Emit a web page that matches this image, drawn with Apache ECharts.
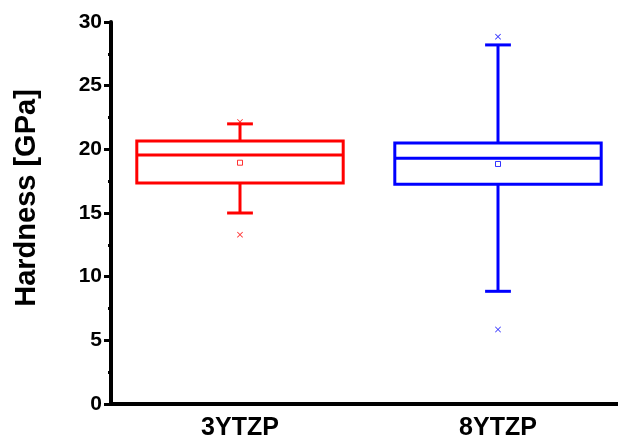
<!DOCTYPE html>
<html>
<head>
<meta charset="utf-8">
<script src="https://cdn.jsdelivr.net/npm/echarts@6/dist/echarts.min.js"></script>
<style>
  html, body { margin: 0; padding: 0; background: #fff; }
  #main { width: 618px; height: 443px; }
</style>
</head>
<body>
<div id="main"></div>
<script>
// data
var categories = ['3YTZP', '8YTZP'];
var colors = ['#ff0000', '#0000ff'];
var whiskerLow = [15.0, 8.85];
var q1 = [17.35, 17.25];
var median = [19.55, 19.3];
var q3 = [20.65, 20.5];
var whiskerHigh = [22.0, 28.2];
var means = [18.95, 18.85];
var outlierLow = [13.3, 5.85];
var outlierHigh = [22.15, 28.85];

var myChart = echarts.init(document.getElementById('main'));

var boxData = categories.map(function (c, i) {
  return [i, whiskerLow[i], q1[i], median[i], q3[i], whiskerHigh[i]];
});

var meanData = categories.map(function (c, i) {
  return { value: [i, means[i]], itemStyle: { color: '#fff', borderColor: colors[i] } };
});

var outData = [];
categories.forEach(function (c, i) {
  outData.push({ value: [i, outlierLow[i]], itemStyle: { color: colors[i] } });
  outData.push({ value: [i, outlierHigh[i]], itemStyle: { color: colors[i] } });
});

function renderBox(params, api) {
  var idx = api.value(0);
  var catW = api.size([1, 0])[0];
  var half = catW * 0.4;
  var cap = catW * 0.05;
  var pLow = api.coord([idx, api.value(1)]);
  var pQ1 = api.coord([idx, api.value(2)]);
  var pMed = api.coord([idx, api.value(3)]);
  var pQ3 = api.coord([idx, api.value(4)]);
  var pHigh = api.coord([idx, api.value(5)]);
  var x = pQ1[0];
  var style = { stroke: colors[idx], lineWidth: 3, fill: null };
  return {
    type: 'group',
    children: [
      { type: 'rect', shape: { x: x - half, y: pQ3[1], width: half * 2, height: pQ1[1] - pQ3[1] }, style: style },
      { type: 'line', shape: { x1: x - half, y1: pMed[1], x2: x + half, y2: pMed[1] }, style: style },
      { type: 'line', shape: { x1: x, y1: pQ3[1], x2: x, y2: pHigh[1] }, style: style },
      { type: 'line', shape: { x1: x, y1: pQ1[1], x2: x, y2: pLow[1] }, style: style },
      { type: 'line', shape: { x1: x - cap, y1: pHigh[1], x2: x + cap, y2: pHigh[1] }, style: style },
      { type: 'line', shape: { x1: x - cap, y1: pLow[1], x2: x + cap, y2: pLow[1] }, style: style }
    ]
  };
}

var option = {
  backgroundColor: '#fff',
  animation: false,
  grid: { left: 111, top: 22, width: 516, bottom: 39, outerBoundsMode: 'none', containLabel: false },
  xAxis: {
    type: 'category',
    data: categories,
    boundaryGap: true,
    axisLine: { lineStyle: { color: '#000', width: 4 } },
    axisTick: { alignWithLabel: true, length: 6, lineStyle: { width: 3, color: '#000' } },
    axisLabel: { color: '#000', fontFamily: 'Liberation Sans', fontWeight: 'bold', fontSize: 25, margin: 12 },
    splitLine: { show: false }
  },
  yAxis: {
    type: 'value',
    min: 0,
    max: 30,
    interval: 5,
    name: 'Hardness [GPa]',
    nameLocation: 'middle',
    nameGap: 70,
    nameTextStyle: {
      color: '#000', fontFamily: 'Liberation Sans', fontWeight: 'bold', fontSize: 29,
      padding: [0, 0, 0, 30]
    },
    axisLine: { show: true, lineStyle: { color: '#000', width: 4 } },
    axisTick: { show: true, length: 7, lineStyle: { width: 3, color: '#000' } },
    minorTick: { show: true, splitNumber: 2, length: 3, lineStyle: { width: 3, color: '#000' } },
    axisLabel: { color: '#000', fontFamily: 'Liberation Sans', fontWeight: 'bold', fontSize: 21, margin: 9 },
    splitLine: { show: false }
  },
  series: [
    {
      type: 'custom',
      renderItem: renderBox,
      encode: { x: 0, y: [1, 2, 3, 4, 5] },
      data: boxData
    },
    {
      type: 'scatter',
      symbol: 'rect',
      symbolSize: 5,
      itemStyle: { borderWidth: 1 },
      data: meanData
    },
    {
      type: 'scatter',
      symbol: 'path://M0,1L1,0L5,4L9,0L10,1L6,5L10,9L9,10L5,6L1,10L0,9L4,5Z',
      symbolSize: 6,
      data: outData
    }
  ]
};

myChart.setOption(option);
</script>
</body>
</html>
